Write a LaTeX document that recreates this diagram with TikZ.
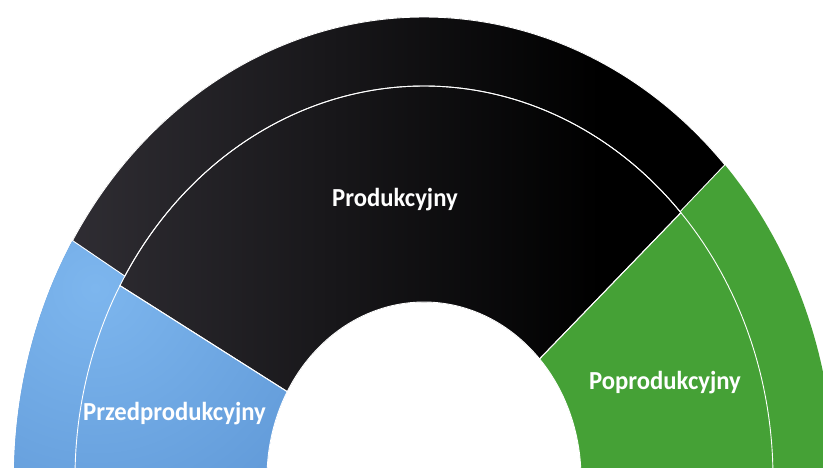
\documentclass[tikz,border=0pt]{standalone}
\usepackage{fontspec}
\setmainfont{Carlito}
\definecolor{bluelight}{HTML}{7DB6EE}
\definecolor{bluedark}{HTML}{5A93D3}
\definecolor{greenfill}{HTML}{45A136}
\definecolor{blackleft}{HTML}{302E34}
\tikzset{
  lbl/.style={text=white, font=\fontsize{26}{30}\selectfont\bfseries, anchor=base, inner sep=0pt},
  sep/.style={draw=white, line width=0.9pt}
}
\newcommand{\lbltext}[1]{\scalebox{0.95}[1]{#1}}
% sector: #1 start angle, #2 end angle, #3 inner rx, #4 inner ry, #5 outer rx, #6 outer ry
\newcommand{\ringsector}[6]{(c) ++(#1:#5 and #6) arc[start angle=#1, end angle=#2, x radius=#5, y radius=#6] -- ($(c)+(#2:#3 and #4)$) arc[start angle=#2, end angle=#1, x radius=#3, y radius=#4] -- cycle}
\usetikzlibrary{calc}
\begin{document}
\begin{tikzpicture}[x=1pt,y=1pt]
\useasboundingbox (0,0) rectangle (823,468);
\clip (0,0) rectangle (823,468);
\coordinate (c) at (424,-10);
% green sectors
\fill[greenfill] \ringsector{-10}{42.6}{157pt}{176pt}{349pt}{392pt};
\fill[greenfill] \ringsector{-10}{42.8}{349pt}{392pt}{410pt}{461pt};
% black sectors with gradient
\begin{scope}
  \clip \ringsector{42.6}{150.6}{157pt}{176pt}{349pt}{392pt};
  \fill[black] (0,0) rectangle (823,468);
  \shade[left color=blackleft, right color=black] (60,0) rectangle (600,468);
\end{scope}
\begin{scope}
  \clip \ringsector{42.8}{149.0}{349pt}{392pt}{410pt}{461pt};
  \fill[black] (0,0) rectangle (823,468);
  \shade[left color=blackleft, right color=black] (60,0) rectangle (600,468);
\end{scope}
% blue sectors with gradient
\begin{scope}
  \clip \ringsector{150.6}{190}{157pt}{176pt}{349pt}{392pt};
  \fill[bluedark] (0,0) rectangle (823,468);
  \shade[inner color=bluelight, outer color=bluedark] (95,180) circle (330);
\end{scope}
\begin{scope}
  \clip \ringsector{149.0}{190}{349pt}{392pt}{410pt}{461pt};
  \fill[bluedark] (0,0) rectangle (823,468);
  \shade[inner color=bluelight, outer color=bluedark] (95,180) circle (330);
\end{scope}
% white separators
\draw[sep] \ringsector{-10}{42.6}{157pt}{176pt}{349pt}{392pt};
\draw[sep] \ringsector{42.6}{150.6}{157pt}{176pt}{349pt}{392pt};
\draw[sep] \ringsector{150.6}{190}{157pt}{176pt}{349pt}{392pt};
\draw[sep] \ringsector{42.8}{149.0}{349pt}{392pt}{410pt}{461pt};
% labels
\node[lbl] (prod) at (395,261) {\lbltext{Produkcyjny}};
\node[lbl] (przed) at (174.5,47) {\lbltext{Przedprodukcyjny}};
\node[lbl] (popro) at (665,78) {\lbltext{Poprodukcyjny}};
\end{tikzpicture}
\end{document}
